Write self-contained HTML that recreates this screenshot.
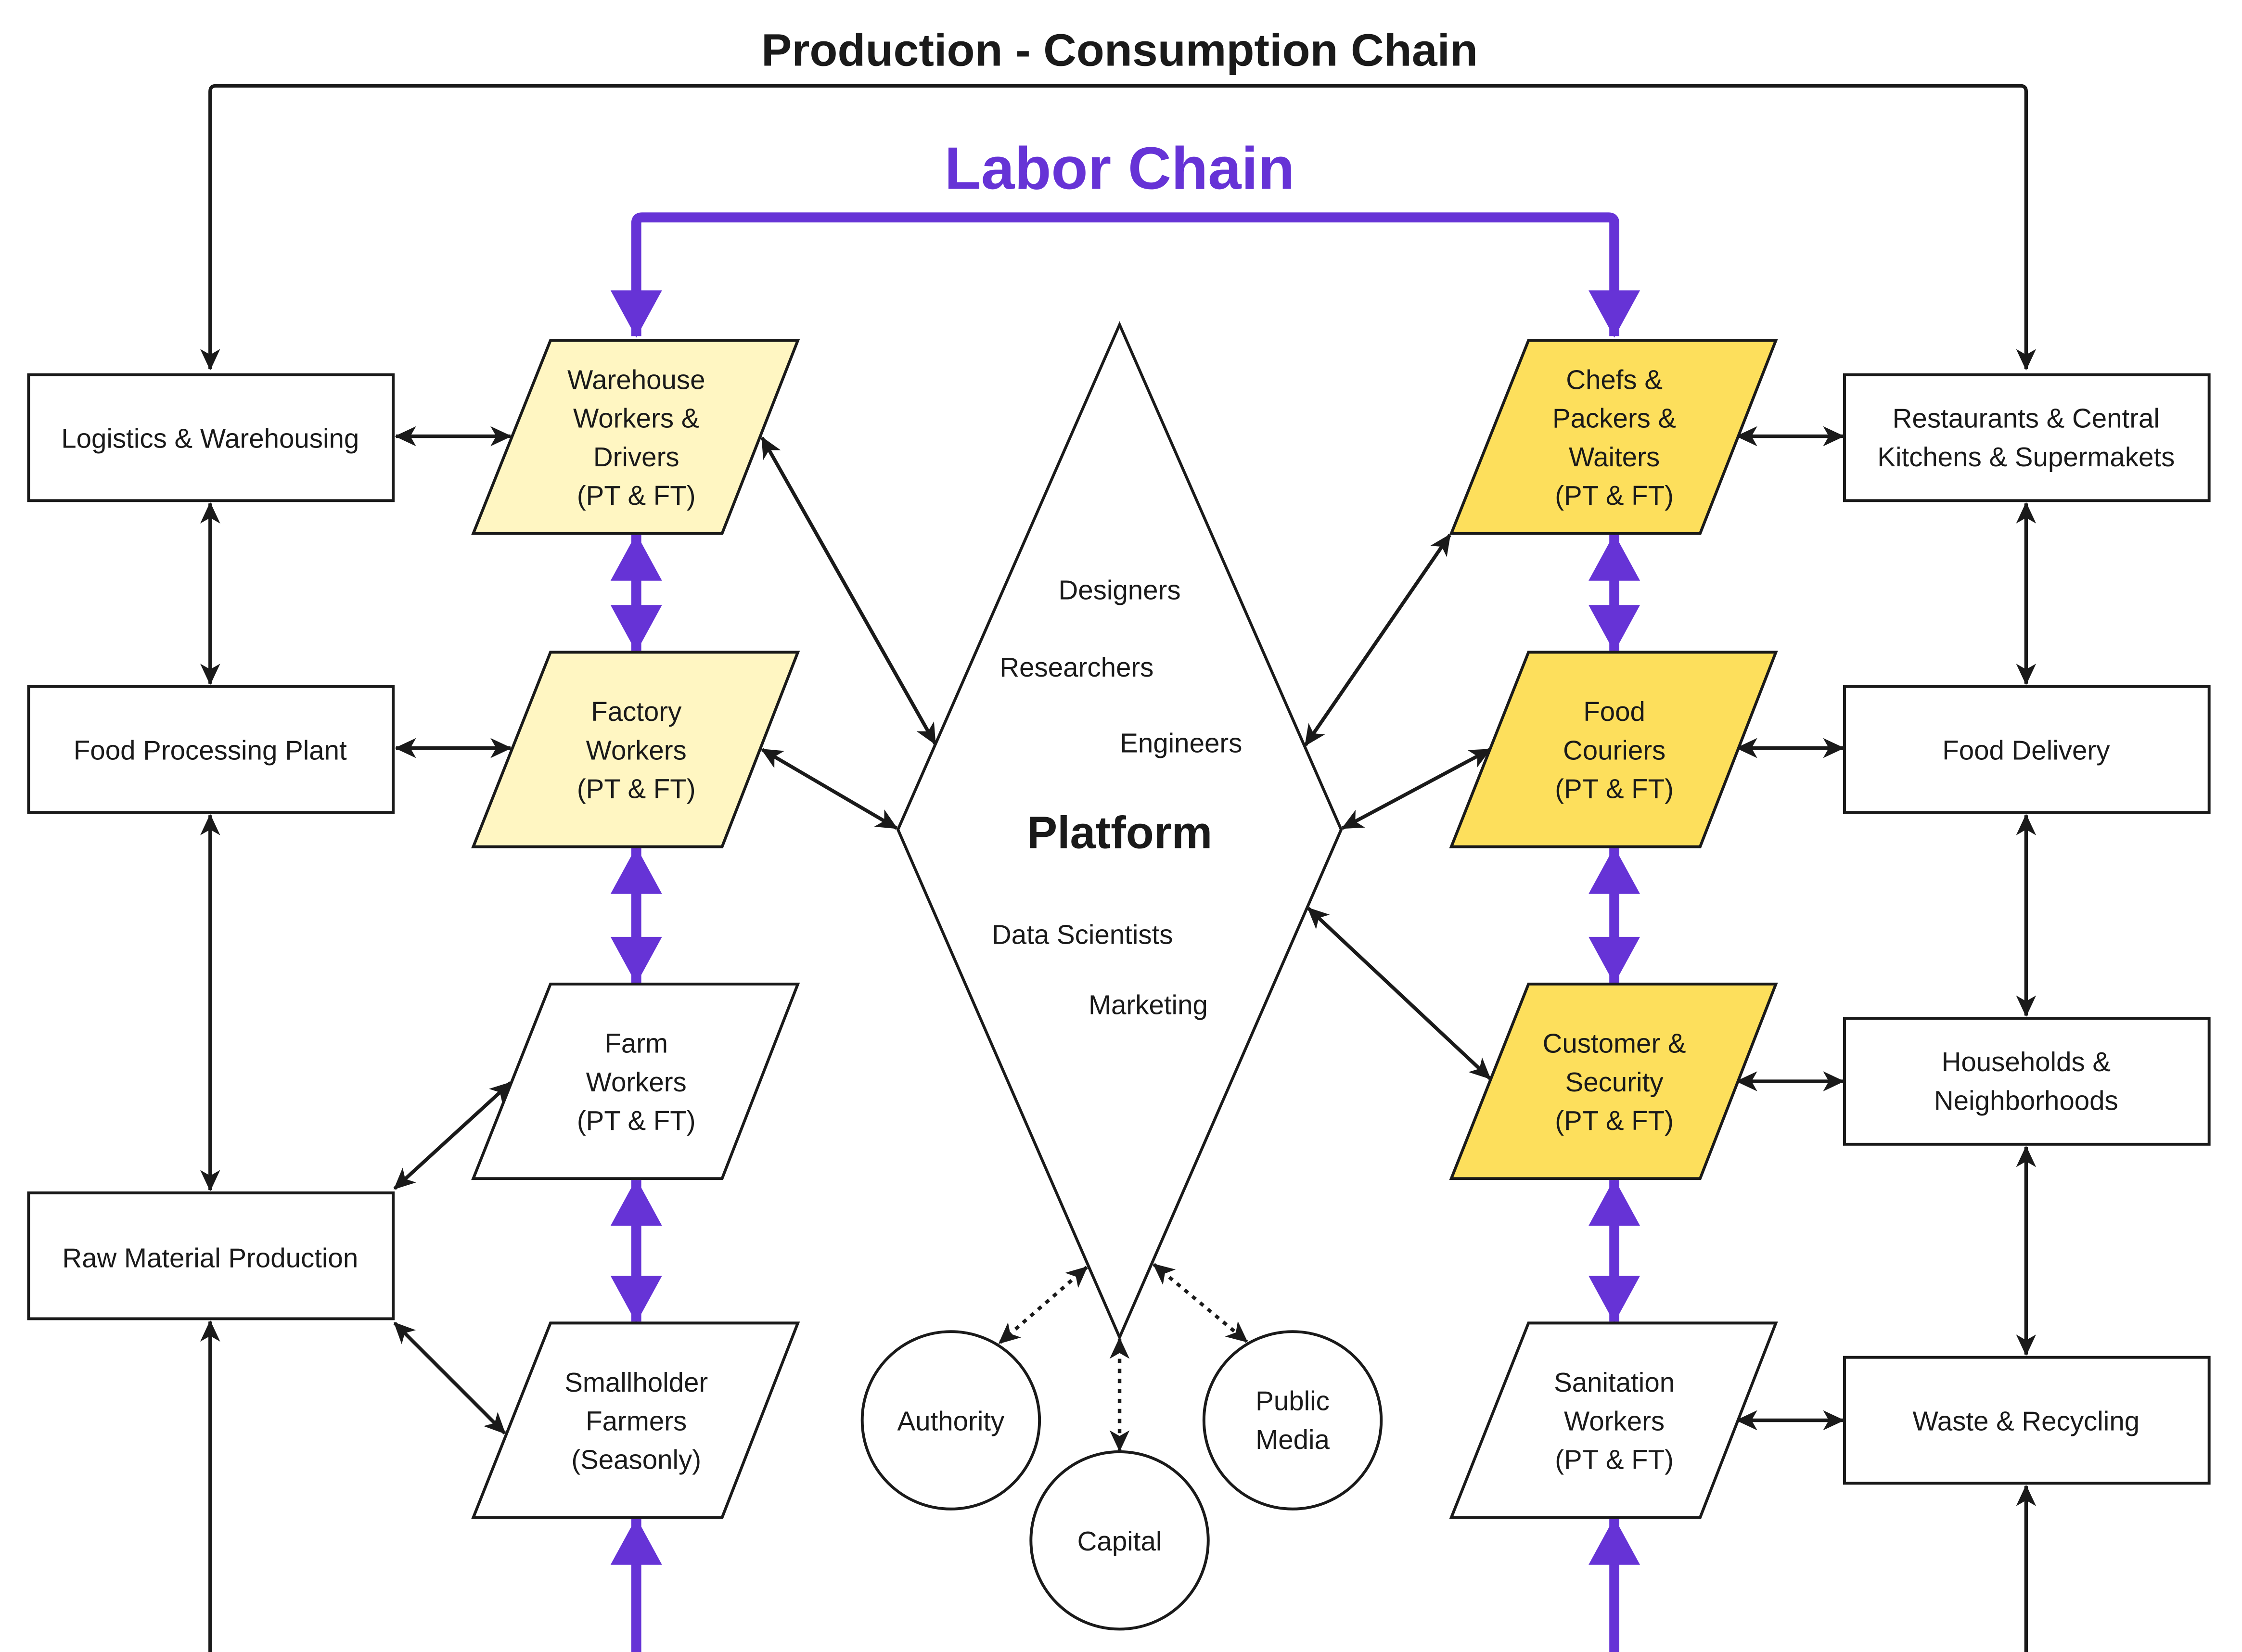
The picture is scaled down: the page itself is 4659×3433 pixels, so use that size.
<!DOCTYPE html>
<html><head><meta charset="utf-8"><style>
html,body{margin:0;padding:0;background:#fff;}
svg{display:block;}
text{font-family:"Liberation Sans","Noto Sans CJK JP",sans-serif;fill:#1a1a1a;}
</style></head><body>
<svg width="4659" height="3433" viewBox="0 0 1568 1155" preserveAspectRatio="none" xmlns="http://www.w3.org/2000/svg">
<defs>
<marker id="a" markerUnits="userSpaceOnUse" markerWidth="16" markerHeight="14" refX="14" refY="7" orient="auto-start-reverse"><path d="M0,0 L15,7 L0,14 L4,7 Z" fill="#1a1a1a"/></marker>
<marker id="p" markerUnits="userSpaceOnUse" markerWidth="36" markerHeight="38" refX="34" refY="19" orient="auto-start-reverse"><path d="M2,1 L35,19 L2,37 Z" fill="#6633d6"/></marker>
</defs>
<rect width="1568" height="1155" fill="#fff"/>
<text x="783" y="46" text-anchor="middle" font-size="32" font-weight="bold">Production - Consumption Chain</text>
<text x="783" y="132" text-anchor="middle" font-size="42" font-weight="bold" style="fill:#6633d6">Labor Chain</text>
<g fill="none" stroke="#1a1a1a" stroke-width="2.5">
<path d="M147,258 V64 Q147,60 151,60 H1413 Q1417,60 1417,64 V258" marker-end="url(#a)" marker-start="url(#a)"/>
<line x1="277" y1="305" x2="357" y2="305" marker-start="url(#a)" marker-end="url(#a)"/>
<line x1="277" y1="523" x2="357" y2="523" marker-start="url(#a)" marker-end="url(#a)"/>
<line x1="1215" y1="305" x2="1289" y2="305" marker-start="url(#a)" marker-end="url(#a)"/>
<line x1="1215" y1="523" x2="1289" y2="523" marker-start="url(#a)" marker-end="url(#a)"/>
<line x1="1215" y1="756" x2="1289" y2="756" marker-start="url(#a)" marker-end="url(#a)"/>
<line x1="1215" y1="993" x2="1289" y2="993" marker-start="url(#a)" marker-end="url(#a)"/>
<line x1="147" y1="352" x2="147" y2="478" marker-start="url(#a)" marker-end="url(#a)"/>
<line x1="147" y1="570" x2="147" y2="832" marker-start="url(#a)" marker-end="url(#a)"/>
<line x1="147" y1="1160" x2="147" y2="924" marker-end="url(#a)"/>
<line x1="1417" y1="352" x2="1417" y2="478" marker-start="url(#a)" marker-end="url(#a)"/>
<line x1="1417" y1="570" x2="1417" y2="710" marker-start="url(#a)" marker-end="url(#a)"/>
<line x1="1417" y1="802" x2="1417" y2="947" marker-start="url(#a)" marker-end="url(#a)"/>
<line x1="1417" y1="1160" x2="1417" y2="1039" marker-end="url(#a)"/>
<line x1="276" y1="831" x2="357" y2="757" marker-start="url(#a)" marker-end="url(#a)"/>
<line x1="276" y1="925" x2="353" y2="1002" marker-start="url(#a)" marker-end="url(#a)"/>
<line x1="533" y1="306" x2="654" y2="520" marker-start="url(#a)" marker-end="url(#a)"/>
<line x1="533" y1="524" x2="627" y2="579" marker-start="url(#a)" marker-end="url(#a)"/>
<line x1="1014" y1="374" x2="913" y2="521" marker-start="url(#a)" marker-end="url(#a)"/>
<line x1="1042" y1="524" x2="939" y2="579" marker-start="url(#a)" marker-end="url(#a)"/>
<line x1="915" y1="635" x2="1042" y2="754" marker-start="url(#a)" marker-end="url(#a)"/>
<g stroke-dasharray="3,4">
<line x1="760" y1="886" x2="699" y2="939" marker-start="url(#a)" marker-end="url(#a)"/>
<line x1="783" y1="936" x2="783" y2="1014" marker-start="url(#a)" marker-end="url(#a)"/>
<line x1="807" y1="884" x2="872" y2="938" marker-start="url(#a)" marker-end="url(#a)"/>
</g>
</g>
<g fill="none" stroke="#6633d6" stroke-width="7">
<path d="M445,235 V156 Q445,152 449,152 H1125 Q1129,152 1129,156 V235" marker-start="url(#p)" marker-end="url(#p)"/>
<line x1="445" y1="374" x2="445" y2="455" marker-start="url(#p)" marker-end="url(#p)"/>
<line x1="445" y1="593" x2="445" y2="687" marker-start="url(#p)" marker-end="url(#p)"/>
<line x1="445" y1="825" x2="445" y2="924" marker-start="url(#p)" marker-end="url(#p)"/>
<line x1="445" y1="1160" x2="445" y2="1062" marker-end="url(#p)"/>
<line x1="1129" y1="374" x2="1129" y2="455" marker-start="url(#p)" marker-end="url(#p)"/>
<line x1="1129" y1="593" x2="1129" y2="687" marker-start="url(#p)" marker-end="url(#p)"/>
<line x1="1129" y1="825" x2="1129" y2="924" marker-start="url(#p)" marker-end="url(#p)"/>
<line x1="1129" y1="1160" x2="1129" y2="1062" marker-end="url(#p)"/>
</g>
<g stroke="#1a1a1a" stroke-width="2">
<rect x="20" y="262" width="255" height="88" fill="#fff"/>
<rect x="20" y="480" width="255" height="88" fill="#fff"/>
<rect x="20" y="834" width="255" height="88" fill="#fff"/>
<rect x="1290" y="262" width="255" height="88" fill="#fff"/>
<rect x="1290" y="480" width="255" height="88" fill="#fff"/>
<rect x="1290" y="712" width="255" height="88" fill="#fff"/>
<rect x="1290" y="949" width="255" height="88" fill="#fff"/>
<polygon points="385,238 558,238 505,373 331,373" fill="#fff6c2"/>
<polygon points="385,456 558,456 505,592 331,592" fill="#fff6c2"/>
<polygon points="385,688 558,688 505,824 331,824" fill="#fff"/>
<polygon points="385,925 558,925 505,1061 331,1061" fill="#fff"/>
<polygon points="1069,238 1242,238 1189,373 1015,373" fill="#fddf5c"/>
<polygon points="1069,456 1242,456 1189,592 1015,592" fill="#fddf5c"/>
<polygon points="1069,688 1242,688 1189,824 1015,824" fill="#fddf5c"/>
<polygon points="1069,925 1242,925 1189,1061 1015,1061" fill="#fff"/>
<polygon points="783,227 938,580 783,935 628,580" fill="#fff"/>
<circle cx="665" cy="993" r="62" fill="#fff"/>
<circle cx="783" cy="1077" r="62" fill="#fff"/>
<circle cx="904" cy="993" r="62" fill="#fff"/>
</g>
<g font-size="19" text-anchor="middle">
<text x="147" y="313">Logistics &amp; Warehousing</text>
<text x="147" y="531">Food Processing Plant</text>
<text x="147" y="886">Raw Material Production</text>
<text x="1417" y="299">Restaurants &amp; Central</text>
<text x="1417" y="326">Kitchens &amp; Supermakets</text>
<text x="1417" y="531">Food Delivery</text>
<text x="1417" y="749">Households &amp;</text>
<text x="1417" y="776">Neighborhoods</text>
<text x="1417" y="1000">Waste &amp; Recycling</text>
<text x="445" y="272">Warehouse</text><text x="445" y="299">Workers &amp;</text><text x="445" y="326">Drivers</text><text x="445" y="353">(PT &amp; FT)</text>
<text x="445" y="504">Factory</text><text x="445" y="531">Workers</text><text x="445" y="558">(PT &amp; FT)</text>
<text x="445" y="736">Farm</text><text x="445" y="763">Workers</text><text x="445" y="790">(PT &amp; FT)</text>
<text x="445" y="973">Smallholder</text><text x="445" y="1000">Farmers</text><text x="445" y="1027">(Seasonly)</text>
<text x="1129" y="272">Chefs &amp;</text><text x="1129" y="299">Packers &amp;</text><text x="1129" y="326">Waiters</text><text x="1129" y="353">(PT &amp; FT)</text>
<text x="1129" y="504">Food</text><text x="1129" y="531">Couriers</text><text x="1129" y="558">(PT &amp; FT)</text>
<text x="1129" y="736">Customer &amp;</text><text x="1129" y="763">Security</text><text x="1129" y="790">(PT &amp; FT)</text>
<text x="1129" y="973">Sanitation</text><text x="1129" y="1000">Workers</text><text x="1129" y="1027">(PT &amp; FT)</text>
<text x="783" y="419">Designers</text>
<text x="753" y="473">Researchers</text>
<text x="826" y="526">Engineers</text>
<text x="757" y="660">Data Scientists</text>
<text x="803" y="709">Marketing</text>
<text x="665" y="1000">Authority</text>
<text x="783" y="1084">Capital</text>
<text x="904" y="986">Public</text>
<text x="904" y="1013">Media</text>
</g>
<text x="783" y="593" text-anchor="middle" font-size="32" font-weight="bold">Platform</text>
</svg>
</body></html>
